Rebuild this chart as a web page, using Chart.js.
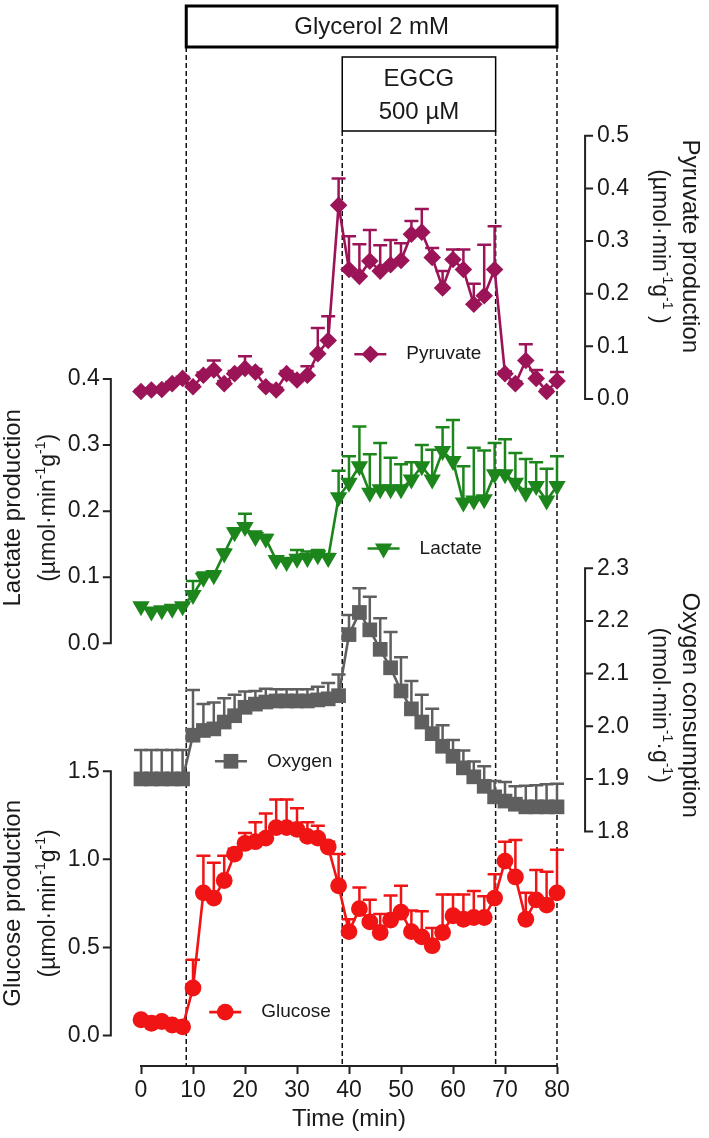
<!DOCTYPE html>
<html>
<head>
<meta charset="utf-8">
<script src="https://cdn.jsdelivr.net/npm/chart.js@4.4.1/dist/chart.umd.min.js"></script>
<style>
  body { margin: 0; background: #fff; }
  #wrap { width: 709px; height: 1138px; position: relative; }
</style>
</head>
<body>
<div id="wrap"><canvas id="chart"></canvas></div>
<script>
// ------------------- DATA -------------------

const times = [0, 2, 4, 6, 8, 10, 12, 14, 16, 18, 20, 22, 24, 26, 28, 30, 32, 34, 36, 38, 40,
  42, 44, 46, 48, 50, 52, 54, 56, 58, 60, 62, 64, 66, 68, 70, 72, 74, 76, 78, 80];

const pyruvate = [0.014, 0.017, 0.018, 0.029, 0.039, 0.023, 0.045, 0.055, 0.029, 0.048, 0.058,
  0.051, 0.023, 0.017, 0.048, 0.036, 0.045, 0.086, 0.111, 0.368, 0.246, 0.233, 0.262, 0.243,
  0.255, 0.263, 0.313, 0.317, 0.269, 0.211, 0.265, 0.246, 0.180, 0.196, 0.246, 0.048, 0.029,
  0.073, 0.039, 0.014, 0.034];
const pyruvateErr = [0.003, 0.003, 0.003, 0.003, 0.003, 0.003, 0.005, 0.018, 0.005, 0.005, 0.023,
  0.006, 0.004, 0.004, 0.005, 0.005, 0.017, 0.049, 0.046, 0.051, 0.063, 0.061, 0.059, 0.049,
  0.047, 0.033, 0.025, 0.044, 0.018, 0.032, 0.019, 0.038, 0.039, 0.097, 0.082, 0.004, 0.004,
  0.031, 0.016, 0.004, 0.017];

const lactate = [0.056, 0.048, 0.050, 0.052, 0.056, 0.073, 0.099, 0.103, 0.136, 0.168, 0.176,
  0.161, 0.158, 0.126, 0.123, 0.128, 0.129, 0.133, 0.129, 0.221, 0.243, 0.268, 0.228, 0.233,
  0.233, 0.233, 0.248, 0.268, 0.248, 0.291, 0.276, 0.213, 0.216, 0.218, 0.256, 0.256, 0.243,
  0.228, 0.238, 0.216, 0.238];
const lactateErr = [0.004, 0.004, 0.004, 0.004, 0.004, 0.021, 0.008, 0.006, 0.006, 0.006, 0.020,
  0.008, 0.006, 0.004, 0.006, 0.013, 0.010, 0.008, 0.006, 0.040, 0.040, 0.060, 0.058, 0.070,
  0.048, 0.038, 0.026, 0.032, 0.045, 0.036, 0.062, 0.055, 0.080, 0.074, 0.047, 0.053, 0.045,
  0.051, 0.036, 0.048, 0.045];

const oxygen = [1.900, 1.900, 1.900, 1.900, 1.900, 1.983, 1.992, 1.995, 2.008, 2.020, 2.036,
  2.042, 2.046, 2.048, 2.048, 2.048, 2.048, 2.050, 2.052, 2.058, 2.174, 2.216, 2.183, 2.146,
  2.111, 2.067, 2.033, 2.008, 1.986, 1.962, 1.943, 1.921, 1.904, 1.886, 1.866, 1.858, 1.852,
  1.847, 1.847, 1.847, 1.847];
const oxygenErr = [0.055, 0.055, 0.055, 0.055, 0.055, 0.086, 0.050, 0.050, 0.045, 0.040, 0.030,
  0.025, 0.025, 0.022, 0.022, 0.022, 0.022, 0.025, 0.030, 0.040, 0.037, 0.046, 0.063, 0.059,
  0.068, 0.064, 0.053, 0.052, 0.047, 0.040, 0.031, 0.033, 0.029, 0.038, 0.030, 0.036, 0.034,
  0.040, 0.041, 0.043, 0.044];

const glucose = [0.09, 0.07, 0.08, 0.06, 0.05, 0.27, 0.81, 0.78, 0.88, 1.03, 1.09, 1.10, 1.12,
  1.18, 1.18, 1.17, 1.13, 1.12, 1.07, 0.85, 0.59, 0.72, 0.645, 0.585, 0.655, 0.70, 0.59, 0.56,
  0.51, 0.585, 0.68, 0.66, 0.67, 0.67, 0.78, 0.99, 0.90, 0.66, 0.77, 0.74, 0.81];
const glucoseErr = [0.01, 0.01, 0.01, 0.01, 0.01, 0.16, 0.21, 0.20, 0.14, 0.03, 0.06, 0.11, 0.14,
  0.16, 0.16, 0.12, 0.08, 0.07, 0.03, 0.18, 0.07, 0.12, 0.125, 0.105, 0.14, 0.15, 0.12, 0.145,
  0.10, 0.215, 0.12, 0.14, 0.15, 0.12, 0.135, 0.11, 0.21, 0.15, 0.17, 0.19, 0.245];

const xTicks = [0, 10, 20, 30, 40, 50, 60, 70, 80];
const pyruvateTicks = [0.0, 0.1, 0.2, 0.3, 0.4, 0.5];
const lactateTicks = [0.0, 0.1, 0.2, 0.3, 0.4];
const oxygenTicks = [1.8, 1.9, 2.0, 2.1, 2.2, 2.3];
const glucoseTicks = [0.0, 0.5, 1.0, 1.5];

const glycerolPeriod = [8.7, 80];
const egcgPeriod = [38.7, 68.2];

// ------------------- STYLE -------------------

const FONT = 'Arial, "Liberation Sans", sans-serif';
const INK = '#1a1a1a';
const C = { pyr: '#9c1458', lac: '#1c861c', oxy: '#5f5f5f', glu: '#f01414' };

const LEFT_AXIS_AT = -5.8;   // x value where the left y axes sit
const RIGHT_AXIS_AT = 85.4;  // x value where the right y axes sit

const sup = t => ({ t, sup: true });
const yAxes = [
  { id: 'yPyr', side: 'right', ticks: pyruvateTicks, mid: 0.29,
    title: ['Pyruvate production', [{ t: '(µmol·min' }, sup('-1'), { t: 'g' }, sup('-1'), { t: ' )' }]] },
  { id: 'yLac', side: 'left', ticks: lactateTicks, mid: 0.205,
    title: ['Lactate production', [{ t: '(µmol·min' }, sup('-1'), { t: 'g' }, sup('-1'), { t: ')' }]] },
  { id: 'yOxy', side: 'right', ticks: oxygenTicks, mid: 2.04,
    title: ['Oxygen consumption', [{ t: '(nmol·min' }, sup('-1'), { t: '·g' }, sup('-1'), { t: ')' }]] },
  { id: 'yGlu', side: 'left', ticks: glucoseTicks, mid: 0.75,
    title: ['Glucose production', [{ t: '(µmol·min' }, sup('-1'), { t: 'g' }, sup('-1'), { t: ')' }]] }
];

// inline legend placement (x in minutes, y in the series' own units)
const legendSpots = [
  { ds: 0, x: 44.1, y: 0.085 },
  { ds: 1, x: 46.65, y: 0.1435 },
  { ds: 2, x: 17.3, y: 1.9335 },
  { ds: 3, x: 16.2, y: 0.133 }
];

function series(vals) {
  return times.map((t, i) => ({ x: t, y: vals[i] }));
}

function makeDataset(label, vals, err, axis, color, style, radius, rotation) {
  return {
    label, data: series(vals), err, yAxisID: axis,
    borderColor: color, backgroundColor: color, borderWidth: 2.6,
    pointStyle: style, pointRadius: radius, pointHoverRadius: radius,
    pointRotation: rotation || 0, pointBorderWidth: 0,
    pointBackgroundColor: color, tension: 0, clip: false
  };
}

const datasets = [
  makeDataset('Pyruvate', pyruvate, pyruvateErr, 'yPyr', C.pyr, 'rectRot', 8.8),
  makeDataset('Lactate', lactate, lactateErr, 'yLac', C.lac, 'triangle', 10, 180),
  makeDataset('Oxygen', oxygen, oxygenErr, 'yOxy', C.oxy, 'rect', 10.4),
  makeDataset('Glucose', glucose, glucoseErr, 'yGlu', C.glu, 'circle', 8.4)
];

// ------------------- PLUGINS -------------------

function drawRich(ctx, segs, size) {
  const small = Math.round(size * 0.62);
  let total = 0;
  segs.forEach(s => {
    ctx.font = (s.sup ? small : size) + 'px ' + FONT;
    s.w = ctx.measureText(s.t).width;
    total += s.w;
  });
  let x = -total / 2;
  segs.forEach(s => {
    ctx.font = (s.sup ? small : size) + 'px ' + FONT;
    ctx.fillText(s.t, x, s.sup ? -size * 0.42 : 0);
    x += s.w;
  });
}

// period lines + treatment boxes
const periodPlugin = {
  id: 'periods',
  beforeDatasetsDraw(chart) {
    const { ctx, scales: { x } } = chart;
    const bottom = chart.chartArea.bottom;
    ctx.save();
    ctx.strokeStyle = '#111';
    ctx.lineWidth = 1.5;
    ctx.setLineDash([5, 3]);
    glycerolPeriod.forEach(v => {
      const px = x.getPixelForValue(v);
      ctx.beginPath(); ctx.moveTo(px, 47); ctx.lineTo(px, bottom); ctx.stroke();
    });
    egcgPeriod.forEach(v => {
      const px = x.getPixelForValue(v);
      ctx.beginPath(); ctx.moveTo(px, 131); ctx.lineTo(px, bottom); ctx.stroke();
    });
    ctx.setLineDash([]);

    // Glycerol box
    const g0 = x.getPixelForValue(glycerolPeriod[0]);
    const g1 = x.getPixelForValue(glycerolPeriod[1]);
    ctx.lineWidth = 3;
    ctx.strokeStyle = '#000';
    ctx.strokeRect(g0, 6, g1 - g0, 41);
    ctx.fillStyle = INK;
    ctx.font = '24px ' + FONT;
    ctx.textAlign = 'center';
    ctx.textBaseline = 'middle';
    ctx.fillText('Glycerol 2 mM', (g0 + g1) / 2, 27);

    // EGCG box
    const e0 = x.getPixelForValue(egcgPeriod[0]);
    const e1 = x.getPixelForValue(egcgPeriod[1]);
    ctx.lineWidth = 1.5;
    ctx.strokeRect(e0, 57, e1 - e0, 74);
    ctx.fillText('EGCG', (e0 + e1) / 2, 79);
    ctx.fillText('500 µM', (e0 + e1) / 2, 112);
    ctx.restore();
  }
};

// upward SEM bars
const errorBarPlugin = {
  id: 'errorBars',
  beforeDatasetsDraw(chart) {
    const { ctx } = chart;
    const x = chart.scales.x;
    ctx.save();
    ctx.lineWidth = 2.5;
    chart.data.datasets.forEach(ds => {
      const y = chart.scales[ds.yAxisID];
      ctx.strokeStyle = ds.borderColor;
      ds.data.forEach((p, i) => {
        const px = x.getPixelForValue(p.x);
        const py = y.getPixelForValue(p.y);
        const pt = y.getPixelForValue(p.y + ds.err[i]);
        ctx.beginPath();
        ctx.moveTo(px, py); ctx.lineTo(px, pt);
        ctx.moveTo(px - 7, pt); ctx.lineTo(px + 7, pt);
        ctx.stroke();
      });
    });
    ctx.restore();
  }
};

// y axes drawn as short brackets with their own ticks and titles
const yAxesPlugin = {
  id: 'yAxesDraw',
  afterDraw(chart) {
    const { ctx } = chart;
    const x = chart.scales.x;
    ctx.save();
    yAxes.forEach(ax => {
      const y = chart.scales[ax.id];
      const left = ax.side === 'left';
      const ax0 = x.getPixelForValue(left ? LEFT_AXIS_AT : RIGHT_AXIS_AT);
      const top = y.getPixelForValue(ax.ticks[ax.ticks.length - 1]);
      const bot = y.getPixelForValue(ax.ticks[0]);
      ctx.strokeStyle = '#222';
      ctx.lineWidth = 2;
      ctx.beginPath();
      ctx.moveTo(ax0, top - 1); ctx.lineTo(ax0, bot + 1);
      ax.ticks.forEach(t => {
        const py = y.getPixelForValue(t);
        ctx.moveTo(ax0, py); ctx.lineTo(ax0 + (left ? -8 : 8), py);
      });
      ctx.stroke();

      ctx.fillStyle = INK;
      ctx.font = '23px ' + FONT;
      ctx.textBaseline = 'middle';
      ctx.textAlign = left ? 'right' : 'left';
      ax.ticks.forEach(t => {
        ctx.fillText(t.toFixed(1), ax0 + (left ? -11 : 12), y.getPixelForValue(t));
      });

      // titles
      const cy = y.getPixelForValue(ax.mid);
      ctx.textAlign = 'left';
      ctx.textBaseline = 'alphabetic';
      const lines = left ? [ax0 - 91, ax0 - 56] : [ax0 + 98, ax0 + 68];
      ctx.save();
      ctx.translate(lines[0], cy);
      ctx.rotate(left ? -Math.PI / 2 : Math.PI / 2);
      drawRich(ctx, [{ t: ax.title[0] }], 24);
      ctx.restore();
      ctx.save();
      ctx.translate(lines[1], cy);
      ctx.rotate(left ? -Math.PI / 2 : Math.PI / 2);
      drawRich(ctx, ax.title[1], 23);
      ctx.restore();
    });
    ctx.restore();
  }
};

// inline legends next to each trace
const inlineLegendPlugin = {
  id: 'inlineLegend',
  afterDatasetsDraw(chart) {
    const { ctx } = chart;
    const x = chart.scales.x;
    ctx.save();
    legendSpots.forEach(spot => {
      const ds = chart.data.datasets[spot.ds];
      const px = x.getPixelForValue(spot.x);
      const py = chart.scales[ds.yAxisID].getPixelForValue(spot.y);
      ctx.strokeStyle = ds.borderColor;
      ctx.lineWidth = 2.6;
      ctx.beginPath(); ctx.moveTo(px - 16, py); ctx.lineTo(px + 16, py); ctx.stroke();
      ctx.fillStyle = ds.borderColor;
      Chart.helpers.drawPoint(ctx, {
        pointStyle: ds.pointStyle, radius: ds.pointRadius,
        rotation: ds.pointRotation, borderWidth: 0
      }, px, py);
      ctx.fillStyle = INK;
      ctx.font = '19px ' + FONT;
      ctx.textAlign = 'left';
      ctx.textBaseline = 'middle';
      ctx.fillText(ds.label, px + 36, py);
    });
    ctx.restore();
  }
};

// ------------------- CHART -------------------

function hiddenY(min, max) {
  return { type: 'linear', display: false, min, max, bounds: 'data' };
}

new Chart(document.getElementById('chart'), {
  type: 'line',
  data: { datasets },
  options: {
    responsive: true,
    maintainAspectRatio: false,
    animation: false,
    events: [],
    layout: { padding: { left: 141, right: 152, top: 0, bottom: 7 } },
    plugins: { legend: { display: false }, tooltip: { enabled: false } },
    scales: {
      x: {
        type: 'linear', min: 0, max: 80,
        border: { display: true, color: '#222', width: 2 },
        grid: { drawOnChartArea: false, drawTicks: true, tickLength: 8, tickColor: '#222', tickWidth: 2 },
        afterBuildTicks: s => { s.ticks = xTicks.map(v => ({ value: v })); },
        ticks: {
          color: INK, padding: 5, maxRotation: 0, autoSkip: false,
          font: { family: FONT, size: 23, lineHeight: 1 }
        },
        title: {
          display: true, text: 'Time (min)', color: INK, padding: 0,
          font: { family: FONT, size: 24, lineHeight: 1 }
        }
      },
      // ranges set so each trace sits in its own band of the plot
      yPyr: hiddenY(-1.268, 0.7385),
      yLac: hiddenY(-0.6404, 0.9584),
      yOxy: hiddenY(1.3551, 3.3588),
      yGlu: hiddenY(-0.1725, 5.8163)
    }
  },
  plugins: [periodPlugin, errorBarPlugin, inlineLegendPlugin, yAxesPlugin]
});
</script>
</body>
</html>
